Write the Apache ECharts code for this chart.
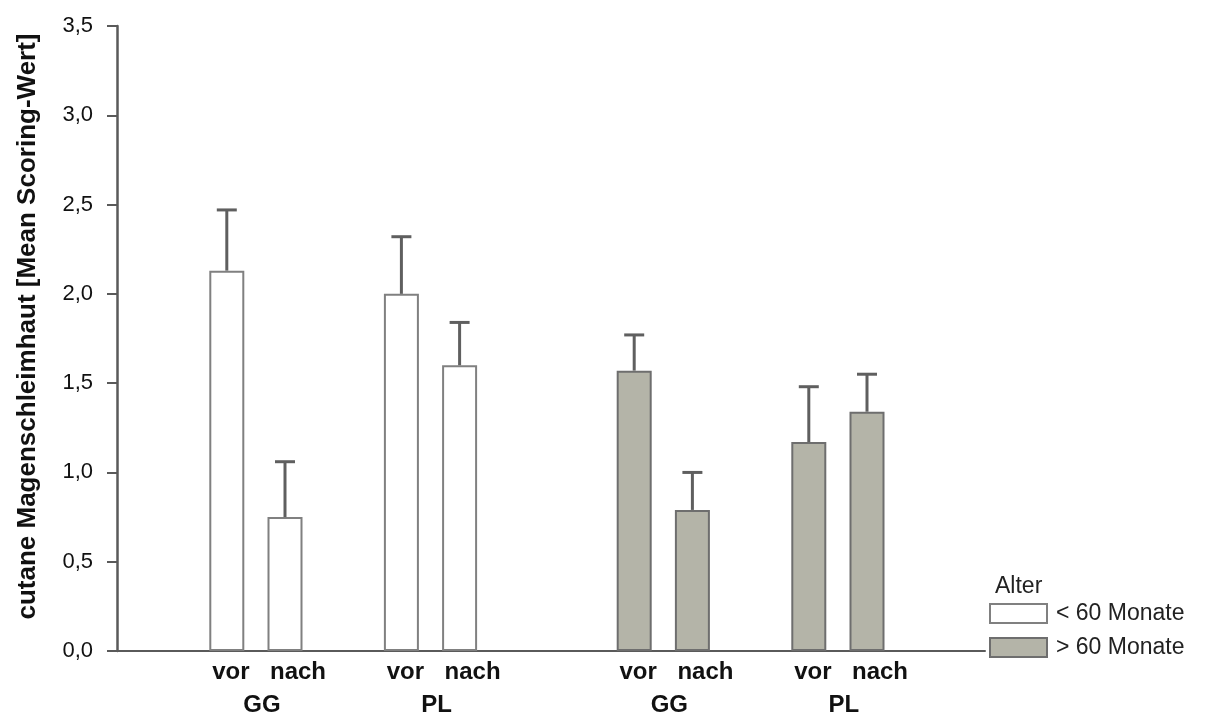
<!DOCTYPE html>
<html>
<head>
<meta charset="utf-8">
<script src="https://cdn.jsdelivr.net/npm/echarts@6/dist/echarts.min.js"></script>
<style>html,body{margin:0;padding:0;background:#fff}#c{width:1205px;height:717px}</style>
</head>
<body>
<div id="c"></div>
<script>
const groups = ['GG', 'PL', 'GG', 'PL'];
const timepoints = ['vor', 'nach'];
const under60Mean = [2.13, 0.75, 2.00, 1.60];
const under60Upper = [2.47, 1.06, 2.32, 1.84];
const over60Mean = [1.57, 0.79, 1.17, 1.34];
const over60Upper = [1.77, 1.00, 1.48, 1.55];
const seriesNames = ['< 60 Monate', '> 60 Monate'];
const legendTitle = 'Alter';
const yTitle = 'cutane Magenschleimhaut [Mean Scoring-Wert]';

// layout: 12 slots, bars at these slots
const slots = [0, 1, 3, 4, 7, 8, 10, 11];
const N = 12;
const cats = new Array(N).fill('');
const wData = new Array(N).fill(null);
const gData = new Array(N).fill(null);
const errData = [];
slots.forEach((s, i) => {
  cats[s] = timepoints[i % 2];
  if (i < 4) {
    wData[s] = under60Mean[i];
    errData.push([s, under60Mean[i], under60Upper[i]]);
  } else {
    gData[s] = over60Mean[i - 4];
    errData.push([s, over60Mean[i - 4], over60Upper[i - 4]]);
  }
});
// group labels at slot boundaries
const groupCats = new Array(N + 1).fill('');
[0, 1, 2, 3].forEach(g => {
  const a = slots[g * 2], b = slots[g * 2 + 1];
  groupCats[(a + b + 1) / 2] = groups[g];
});

const FF = '"Liberation Sans", Arial, Helvetica, sans-serif';
const AX = '#5a5a5a';
const chart = echarts.init(document.getElementById('c'));
chart.setOption({
  backgroundColor: '#fff',
  animation: false,
  textStyle: { fontFamily: FF },
  title: {
    text: legendTitle, left: 995, top: 575, padding: 0,
    textStyle: { fontFamily: FF, fontSize: 23, fontWeight: 'normal', color: '#222' }
  },
  legend: {
    orient: 'vertical', left: 989, top: 602, padding: 0,
    itemWidth: 57, itemHeight: 19, itemGap: 11,
    icon: 'rect',
    textStyle: { fontFamily: FF, fontSize: 23, color: '#222', padding: [0, 0, 0, 4] },
    data: seriesNames
  },
  grid: [
    { left: 117, right: 220, top: 26, bottom: 66, outerBoundsMode: 'none', containLabel: false },
    { left: 197.7, width: 698.4, top: 26, bottom: 66, outerBoundsMode: 'none', containLabel: false }
  ],
  xAxis: [
    { gridIndex: 0, type: 'value', min: 0, max: 1, position: 'bottom',
      axisLine: { show: true, lineStyle: { color: AX, width: 2 } },
      axisTick: { show: false }, axisLabel: { show: false }, splitLine: { show: false } },
    { gridIndex: 1, type: 'category', data: cats, boundaryGap: true, position: 'bottom',
      axisLine: { show: false, onZero: false }, axisTick: { show: false }, splitLine: { show: false },
      axisLabel: { interval: 0, margin: 9, fontSize: 24, fontWeight: 'bold', color: '#111', fontFamily: FF,
        formatter: v => v === 'vor' ? '{v|vor}' : (v ? '{n|' + v + '}' : ''),
        rich: {
          v: { fontSize: 24, fontWeight: 'bold', color: '#111', fontFamily: FF, padding: [0, 0, 0, 8] },
          n: { fontSize: 24, fontWeight: 'bold', color: '#111', fontFamily: FF, padding: [0, 0, 0, 26] }
        } } },
    { gridIndex: 1, type: 'category', data: groupCats, boundaryGap: false, position: 'bottom',
      axisLine: { show: false, onZero: false }, axisTick: { show: false }, splitLine: { show: false },
      axisLabel: { interval: 0, margin: 42, color: '#111', fontFamily: FF,
        formatter: v => v ? '{a|' + v + '}' : '',
        rich: { a: { fontSize: 24, fontWeight: 'bold', color: '#111', fontFamily: FF, padding: [0, 0, 0, 12] } } } }
  ],
  yAxis: [
    { gridIndex: 0, type: 'value', min: 0, max: 3.5, interval: 0.5,
      name: yTitle, nameLocation: 'middle', nameRotate: 90, nameGap: 76,
      nameTextStyle: { fontFamily: FF, fontSize: 26, fontWeight: 'bold', color: '#111', padding: [0, 0, 0, 24] },
      axisLine: { show: true, lineStyle: { color: AX, width: 2.5 } },
      axisTick: { show: true, length: 10, lineStyle: { color: AX, width: 2 } },
      axisLabel: { margin: 24, fontSize: 22, color: '#111', fontFamily: FF,
        formatter: v => v.toFixed(1).replace('.', ',') },
      splitLine: { show: false } },
    { gridIndex: 1, type: 'value', min: 0, max: 3.5, interval: 0.5, show: false, splitLine: { show: false } }
  ],
  series: [
    { name: seriesNames[0], type: 'bar', xAxisIndex: 1, yAxisIndex: 1, data: wData,
      barWidth: 35, barGap: '-100%',
      itemStyle: { color: '#ffffff', borderColor: '#808080', borderWidth: 2 } },
    { name: seriesNames[1], type: 'bar', xAxisIndex: 1, yAxisIndex: 1, data: gData,
      barWidth: 35, barGap: '-100%',
      itemStyle: { color: '#b4b4a8', borderColor: '#6e6e6e', borderWidth: 2 } },
    { type: 'custom', xAxisIndex: 1, yAxisIndex: 1, data: errData, z: 5,
      renderItem: function (params, api) {
        const x = api.value(0);
        const p0 = api.coord([x, api.value(1)]);
        const p1 = api.coord([x, api.value(2)]);
        const hw = 10;
        const st = { stroke: '#5f5f5f', lineWidth: 3 };
        return { type: 'group', children: [
          { type: 'line', shape: { x1: p0[0], y1: p0[1], x2: p1[0], y2: p1[1] }, style: st },
          { type: 'line', shape: { x1: p1[0] - hw, y1: p1[1], x2: p1[0] + hw, y2: p1[1] }, style: st }
        ] };
      } }
  ]
});
</script>
</body>
</html>
